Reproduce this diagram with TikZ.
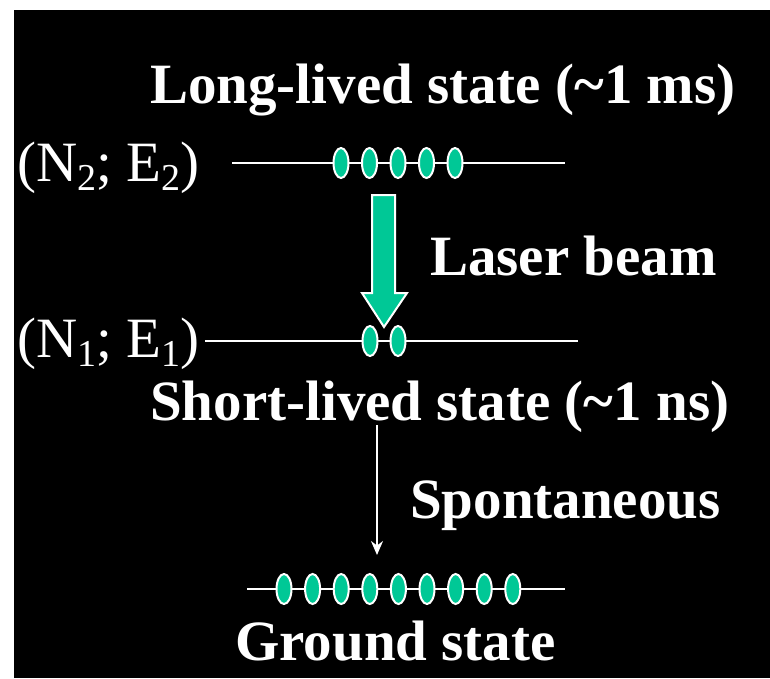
\documentclass[tikz,border=0pt]{standalone}
\usepackage{fontspec}
\setmainfont{Liberation Serif}
\usetikzlibrary{arrows.meta,shapes.geometric}
\definecolor{dotgreen}{RGB}{0,200,150}
\tikzset{
  lbl/.style={text=white, font=\fontsize{57}{60}\selectfont\bfseries, inner sep=0pt, anchor=base west},
  nlbl/.style={text=white, font=\fontsize{57}{60}\selectfont, inner sep=0pt, anchor=base west},
  lvl/.style={draw=white, line width=2.5pt},
  dot/.style={ellipse, draw=white, line width=2pt, fill=dotgreen, minimum width=15pt, minimum height=30pt, inner sep=0pt},
}
\newcommand{\subidx}[1]{\raisebox{-9pt}{\fontsize{38}{40}\selectfont #1}}
\begin{document}
\begin{tikzpicture}[x=1pt,y=-1pt]
\useasboundingbox (0,0) rectangle (770,678);
\fill[white] (0,0) rectangle (770,678);
\fill[black] (14,10) rectangle (770,678);
% texts
\node[lbl] (long) at (150,103) {Long-lived state (\textasciitilde 1 ms)};
\node[nlbl] (n2) at (17,181) {(N\subidx{2}; E\subidx{2})};
\node[lbl] (laser) at (430,275) {Laser beam};
\node[nlbl] (n1) at (17,357) {(N\subidx{1}; E\subidx{1})};
\node[lbl] (short) at (150,420) {Short-lived state (\textasciitilde 1 ns)};
\node[lbl] (spont) at (410,518) {Spontaneous};
\node[lbl] (ground) at (235,660) {Ground state};
% levels
\coordinate (l2a) at (232,163); \coordinate (l2b) at (565,163);
\coordinate (l1a) at (205,341); \coordinate (l1b) at (578,341);
\coordinate (l0a) at (247,589); \coordinate (l0b) at (565,589);
\draw[lvl] (l2a) -- (l2b);
\draw[lvl] (l1a) -- (l1b);
\draw[lvl] (l0a) -- (l0b);
\foreach \i in {0,...,4} \node[dot] (u\i) at ({341+28.5*\i},163) {};
\foreach \i in {0,1} \node[dot] (m\i) at ({370+28*\i},341) {};
\foreach \i in {0,...,8} \node[dot] (g\i) at ({284+28.6*\i},589) {};
% green arrow
\draw[white, line width=2pt, fill=dotgreen, line join=miter]
  (372,195) -- (395,195) -- (395,293) -- (407,293) -- (384,327) -- (362,293) -- (372,293) -- cycle;
% spontaneous arrow
\coordinate (sa) at (377,425);
\coordinate (sb) at (377,555);
\draw[white, line width=2pt, -{Stealth[length=14pt,width=12pt]}] (sa) -- (sb);
\end{tikzpicture}
\end{document}
